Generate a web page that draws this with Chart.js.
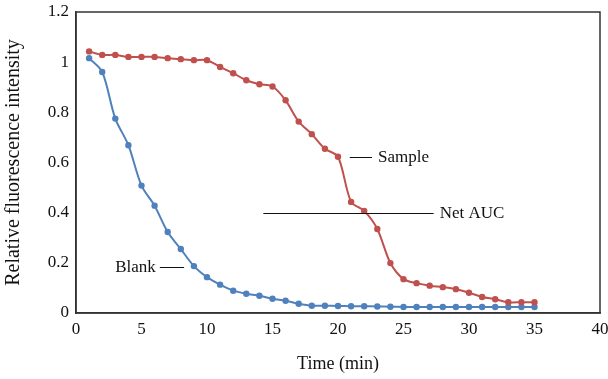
<!DOCTYPE html>
<html lang="en">
<head>
    <meta charset="UTF-8">
    <title>Relative fluorescence intensity</title>
    <script src="https://cdn.jsdelivr.net/npm/chart.js"></script>
    <style>
        body { margin: 0; background: #fff; }
        #wrap { width: 608px; height: 379px; }
    </style>
</head>
<body>
    <div id="wrap"><canvas id="auc"></canvas></div>

    <script>
        // data
        const timeMin = [1,2,3,4,5,6,7,8,9,10,11,12,13,14,15,16,17,18,19,20,21,22,23,24,25,26,27,28,29,30,31,32,33,34,35];
        const sample = [1.043,1.029,1.029,1.021,1.021,1.021,1.016,1.012,1.008,1.008,0.981,0.956,0.928,0.912,0.903,0.848,0.763,0.713,0.655,0.623,
                        0.443,0.407,0.335,0.199,0.135,0.119,0.109,0.103,0.095,0.081,0.064,0.055,0.043,0.043,0.043];
        const blank = [1.016,0.961,0.775,0.669,0.508,0.428,0.323,0.255,0.187,0.143,0.113,0.089,0.077,0.069,0.057,0.049,0.037,0.029,0.029,0.028,
                       0.027,0.027,0.026,0.025,0.024,0.024,0.024,0.024,0.024,0.024,0.024,0.024,0.024,0.024,0.024];
        const xTicks = [0,5,10,15,20,25,30,35,40];
        const yTicks = [0,0.2,0.4,0.6,0.8,1,1.2];

        // labels with leader lines (data units)
        const labels = [
            { text: 'Sample',  x0: 20.9, x1: 22.6, y: 0.622, side: 'right' },
            { text: 'Net AUC', x0: 14.3, x1: 27.3, y: 0.400, side: 'right' },
            { text: 'Blank',   x0: 6.4,  x1: 8.25, y: 0.184, side: 'left' }
        ];

        const serif = '"Liberation Serif", "DejaVu Serif", serif';

        const toXY = (ys) => ys.map((v, i) => ({ x: timeMin[i], y: v }));

        const boxAndLabels = {
            id: 'boxAndLabels',
            afterDatasetsDraw(chart) {
                const { ctx, chartArea, scales } = chart;
                ctx.save();
                ctx.strokeStyle = '#333';
                ctx.lineWidth = 1.5;
                ctx.strokeRect(chartArea.left, chartArea.top, chartArea.right - chartArea.left, chartArea.bottom - chartArea.top);

                ctx.font = '17px ' + serif;
                ctx.fillStyle = '#111';
                ctx.textBaseline = 'middle';
                ctx.lineWidth = 1;
                ctx.strokeStyle = '#111';
                labels.forEach(l => {
                    const px0 = scales.x.getPixelForValue(l.x0);
                    const px1 = scales.x.getPixelForValue(l.x1);
                    const py = Math.round(scales.y.getPixelForValue(l.y)) + 0.5;
                    ctx.beginPath();
                    ctx.moveTo(px0, py);
                    ctx.lineTo(px1, py);
                    ctx.stroke();
                    if (l.side === 'right') {
                        ctx.textAlign = 'left';
                        ctx.fillText(l.text, px1 + 6, py);
                    } else {
                        ctx.textAlign = 'right';
                        ctx.fillText(l.text, px0 - 4, py);
                    }
                });
                ctx.restore();
            }
        };

        new Chart(document.getElementById('auc'), {
            type: 'line',
            data: {
                datasets: [
                    {
                        label: 'Sample',
                        data: toXY(sample),
                        borderColor: '#c0504d',
                        backgroundColor: '#c0504d',
                        borderWidth: 2,
                        pointRadius: 3.2,
                        pointBorderWidth: 0,
                        tension: 0.3
                    },
                    {
                        label: 'Blank',
                        data: toXY(blank),
                        borderColor: '#4f81bd',
                        backgroundColor: '#4f81bd',
                        borderWidth: 2,
                        pointRadius: 3.2,
                        pointBorderWidth: 0,
                        tension: 0.3
                    }
                ]
            },
            options: {
                responsive: true,
                maintainAspectRatio: false,
                animation: false,
                layout: { padding: { top: 12, right: 8 } },
                plugins: {
                    legend: { display: false },
                    tooltip: { enabled: false }
                },
                scales: {
                    x: {
                        type: 'linear',
                        min: 0,
                        max: 40,
                        afterBuildTicks: (s) => { s.ticks = xTicks.map(v => ({ value: v })); },
                        afterFit: (s) => { s.height = 66; s.paddingLeft = 0; s.paddingRight = 0; },
                        grid: { display: false, drawTicks: false },
                        border: { display: true, color: '#333', width: 1.5 },
                        ticks: { color: '#111', padding: 6, font: { family: serif, size: 17 } },
                        title: {
                            display: true,
                            text: 'Time (min)',
                            color: '#111',
                            padding: { top: 10 },
                            font: { family: serif, size: 18 }
                        }
                    },
                    y: {
                        min: 0,
                        max: 1.2,
                        afterBuildTicks: (s) => { s.ticks = yTicks.map(v => ({ value: v })); },
                        afterFit: (s) => { s.width = 76; s.paddingTop = 0; s.paddingBottom = 0; },
                        grid: { display: false, drawTicks: false },
                        border: { display: true, color: '#333', width: 1.5 },
                        ticks: {
                            color: '#111',
                            padding: 7,
                            font: { family: serif, size: 17 },
                            callback: (v) => String(Math.round(v * 10) / 10)
                        },
                        title: {
                            display: true,
                            text: 'Relative fluorescence intensity',
                            color: '#111',
                            padding: { top: 2, bottom: 8 },
                            font: { family: serif, size: 20 }
                        }
                    }
                }
            },
            plugins: [boxAndLabels]
        });
    </script>
</body>
</html>
